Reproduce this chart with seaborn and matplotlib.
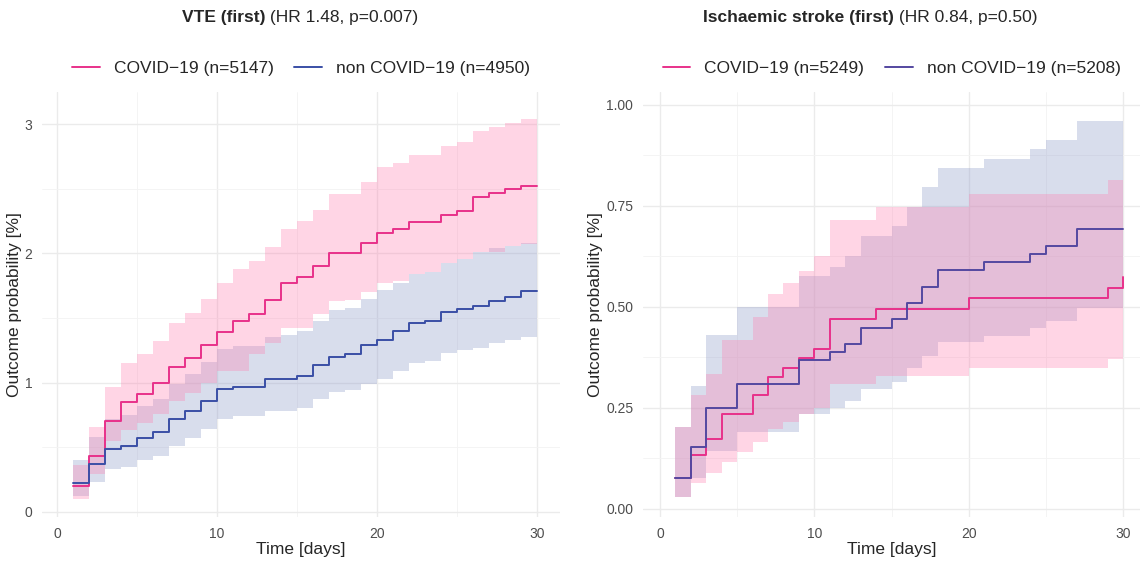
import seaborn as sns
import matplotlib
matplotlib.use("Agg")
import matplotlib.pyplot as plt
import pandas as pd
import numpy as np

days = list(range(1, 31))

# VTE (first), values in %
vte_covid = [0.20, 0.43, 0.70, 0.85, 0.91, 1.00, 1.12, 1.19, 1.29, 1.39, 1.48, 1.53, 1.64, 1.77, 1.82,
             1.90, 2.00, 2.00, 2.08, 2.16, 2.19, 2.24, 2.24, 2.30, 2.33, 2.44, 2.47, 2.50, 2.52, 2.52]
vte_covid_hi = [0.36, 0.66, 0.97, 1.15, 1.22, 1.32, 1.46, 1.54, 1.65, 1.77, 1.88, 1.94, 2.05, 2.19, 2.25,
                2.34, 2.46, 2.46, 2.55, 2.67, 2.70, 2.76, 2.76, 2.83, 2.86, 2.95, 2.98, 3.01, 3.04, 3.04]
vte_covid_lo = [0.10, 0.29, 0.55, 0.63, 0.69, 0.76, 0.86, 0.92, 1.00, 1.09, 1.09, 1.22, 1.31, 1.42, 1.42,
                1.53, 1.63, 1.64, 1.70, 1.77, 1.79, 1.84, 1.86, 1.93, 1.96, 2.01, 2.01, 2.06, 2.07, 2.10]
vte_non = [0.22, 0.37, 0.49, 0.51, 0.57, 0.62, 0.72, 0.78, 0.86, 0.95, 0.97, 0.97, 1.03, 1.03, 1.05,
           1.14, 1.20, 1.22, 1.29, 1.33, 1.40, 1.46, 1.48, 1.55, 1.57, 1.59, 1.63, 1.66, 1.71, 1.71]
vte_non_hi = [0.40, 0.58, 0.72, 0.75, 0.82, 0.87, 0.99, 1.07, 1.16, 1.26, 1.28, 1.28, 1.35, 1.37, 1.40,
              1.48, 1.56, 1.58, 1.65, 1.72, 1.77, 1.84, 1.86, 1.93, 1.96, 2.01, 2.04, 2.06, 2.08, 2.10]
vte_non_lo = [0.12, 0.23, 0.33, 0.35, 0.40, 0.43, 0.51, 0.57, 0.64, 0.72, 0.74, 0.74, 0.78, 0.78, 0.80,
              0.87, 0.93, 0.94, 0.99, 1.03, 1.09, 1.15, 1.17, 1.23, 1.25, 1.27, 1.31, 1.33, 1.35, 1.37]

# Ischaemic stroke (first), values in %
isc_covid = [0.076, 0.134, 0.174, 0.236, 0.236, 0.281, 0.326, 0.350, 0.373, 0.397, 0.470, 0.470, 0.470,
             0.495, 0.495, 0.495, 0.495, 0.495, 0.495, 0.522, 0.522, 0.522, 0.522, 0.522, 0.522, 0.522,
             0.522, 0.522, 0.546, 0.575]
isc_covid_hi = [0.203, 0.283, 0.335, 0.417, 0.417, 0.474, 0.532, 0.560, 0.590, 0.625, 0.715, 0.715, 0.715,
                0.747, 0.747, 0.747, 0.747, 0.747, 0.747, 0.779, 0.779, 0.779, 0.779, 0.779, 0.779, 0.779,
                0.779, 0.779, 0.815, 0.815]
isc_covid_lo = [0.030, 0.063, 0.090, 0.115, 0.142, 0.165, 0.197, 0.215, 0.235, 0.250, 0.308, 0.308, 0.308,
                0.328, 0.328, 0.328, 0.328, 0.328, 0.328, 0.349, 0.349, 0.349, 0.349, 0.349, 0.349, 0.349,
                0.349, 0.349, 0.371, 0.371]
isc_non = [0.076, 0.153, 0.250, 0.250, 0.309, 0.309, 0.309, 0.309, 0.369, 0.369, 0.389, 0.409, 0.448,
           0.448, 0.469, 0.509, 0.550, 0.591, 0.591, 0.591, 0.612, 0.612, 0.612, 0.632, 0.652, 0.652,
           0.693, 0.693, 0.693, 0.693]
isc_non_hi = [0.203, 0.305, 0.430, 0.430, 0.500, 0.500, 0.500, 0.500, 0.577, 0.577, 0.600, 0.627, 0.676,
              0.676, 0.700, 0.747, 0.796, 0.843, 0.843, 0.843, 0.866, 0.866, 0.866, 0.890, 0.913, 0.913,
              0.961, 0.961, 0.961, 0.961]
isc_non_lo = [0.030, 0.076, 0.144, 0.144, 0.190, 0.190, 0.190, 0.190, 0.235, 0.235, 0.250, 0.266, 0.297,
              0.297, 0.314, 0.349, 0.378, 0.413, 0.413, 0.413, 0.429, 0.429, 0.429, 0.447, 0.464, 0.464,
              0.497, 0.497, 0.497, 0.497]

sns.set_theme(style="whitegrid")
plt.rcParams['font.family'] = ['Liberation Sans', 'DejaVu Sans']
plt.rcParams['grid.color'] = '#ebebeb'

PINK = '#e8318a'
PINK_FILL = '#ff80b0'
BLUE = '#3a4fa6'
BLUE_FILL = '#8a98c8'

fig = plt.figure(figsize=(11.46, 5.62), dpi=100)
ax1 = fig.add_axes([42/1146, 1 - 517/562, 518/1146, 425/562])
ax2 = fig.add_axes([643/1146, 1 - 517/562, 497/1146, 425/562])


def km_panel(ax, cov, cov_lo, cov_hi, non, non_lo, non_hi, n_cov, n_non, blue):
    df = pd.DataFrame({'day': days, 'cov': cov, 'non': non})
    ax.fill_between(days, non_lo, non_hi, step='post', color=BLUE_FILL, alpha=0.33, lw=0)
    ax.fill_between(days, cov_lo, cov_hi, step='post', color=PINK_FILL, alpha=0.33, lw=0)
    sns.lineplot(data=df, x='day', y='cov', ax=ax, color=PINK, lw=1.4, drawstyle='steps-post',
                 label=f'COVID\u221219 (n={n_cov})')
    sns.lineplot(data=df, x='day', y='non', ax=ax, color=blue, lw=1.4, drawstyle='steps-post',
                 label=f'non COVID\u221219 (n={n_non})')
    for s in ax.spines.values():
        s.set_visible(False)
    ax.set_xlabel('Time [days]', fontsize=12.5, labelpad=1)
    ax.set_ylabel('Outcome probability [%]', fontsize=12.5, labelpad=2)
    ax.tick_params(labelsize=10, colors='#4d4d4d', pad=1)
    ax.set_xticks([0, 10, 20, 30])
    ax.legend(loc='lower center', bbox_to_anchor=(0.5, 1.0), ncol=2, frameon=False,
              fontsize=12.5, handlelength=1.6, columnspacing=1.2)


km_panel(ax1, vte_covid, vte_covid_lo, vte_covid_hi, vte_non, vte_non_lo, vte_non_hi, 5147, 4950, BLUE)
ax1.set_xlim(-0.95, 31.45)
ax1.set_ylim(-0.04, 3.25)
ax1.set_yticks([0, 1, 2, 3])
ax1.set_yticks([0.5, 1.5, 2.5], minor=True)

km_panel(ax2, isc_covid, isc_covid_lo, isc_covid_hi, isc_non, isc_non_lo, isc_non_hi, 5249, 5208, '#5448a0')
ax2.set_xlim(-1.1, 31.1)
ax2.set_ylim(-0.02, 1.032)
ax2.set_yticks([0, 0.25, 0.5, 0.75, 1.0])
ax2.set_yticklabels(['0.00', '0.25', '0.50', '0.75', '1.00'])
ax2.set_yticks([0.125, 0.375, 0.625, 0.875], minor=True)

for ax in (ax1, ax2):
    ax.xaxis.set_minor_locator(matplotlib.ticker.FixedLocator([5, 15, 25]))
    ax.grid(which='minor', color='#f3f3f3', lw=0.6)
    ax.tick_params(which='minor', length=0)

# titles: bold part + normal part
for cx, bold, rest in [(300, 'VTE (first)', ' (HR 1.48, p=0.007)'),
                       (870, 'Ischaemic stroke (first)', ' (HR 0.84, p=0.50)')]:
    t = fig.text(0, 0, bold, fontsize=12.5, fontweight='bold')
    r = fig.text(0, 0, rest, fontsize=12.5)
    fig.canvas.draw()
    rend = fig.canvas.get_renderer()
    wb = t.get_window_extent(rend).width
    wr = r.get_window_extent(rend).width
    x0 = (cx - (wb + wr) / 2) / 1146
    t.set_position((x0, 1 - 22/562))
    r.set_position((x0 + wb / 1146, 1 - 22/562))

fig.savefig('out.png', dpi=100)
